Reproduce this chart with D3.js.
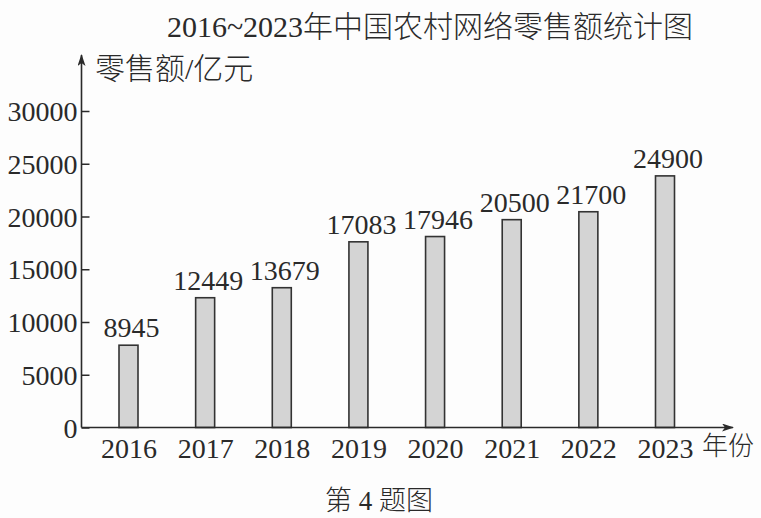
<!DOCTYPE html>
<html>
<head>
<meta charset="utf-8">
<script src="https://cdn.jsdelivr.net/npm/d3@7"></script>
<style>
  body { margin: 0; background: #fdfdfd; }
  text { font-family: "Liberation Serif", "Noto Sans CJK SC", serif; fill: #2a2a2a; }
  .cjk { font-weight: 300; }
</style>
</head>
<body>
<svg id="chart" width="761" height="518"></svg>
<script>
// DATA
var years = ["2016","2017","2018","2019","2020","2021","2022","2023"];
var value_labels = [8945, 12449, 13679, 17083, 17946, 20500, 21700, 24900];
// bar heights as they are drawn in the printed figure (not quite to scale with the labels)
var bar_heights = [7800, 12300, 13250, 17600, 18100, 19700, 20450, 23850];
var y_ticks = [0, 5000, 10000, 15000, 20000, 25000, 30000];

var title_text = "2016~2023年中国农村网络零售额统计图";
var y_title = "零售额/亿元";
var x_title = "年份";
var caption = "第 4 题图";

// RENDERING
var svg = d3.select("#chart");
var ink = "#2a2a2a";

var origin = {x: 81.5, y: 427.5};

var x = d3.scalePoint().domain(years).range([128.5, 665]);
var y = d3.scaleLinear().domain([0, 30000]).range([origin.y, 111]);
var bar_w = 19;

svg.append("defs").append("marker")
  .attr("id","arrow")
  .attr("viewBox","0 0 12 8")
  .attr("refX",11).attr("refY",4)
  .attr("markerWidth",12).attr("markerHeight",8)
  .attr("markerUnits","userSpaceOnUse")
  .attr("orient","auto")
  .append("path")
    .attr("d","M0,0 L12,4 L0,8 L3,4 Z")
    .attr("fill",ink);

// title
svg.append("text")
  .attr("class","cjk")
  .attr("x", 430).attr("y", 37)
  .attr("text-anchor","middle")
  .style("font-size","30px")
  .text(title_text);

// bars
svg.selectAll(".bar")
  .data(years)
  .enter().append("rect")
    .attr("class","bar")
    .attr("x", function(d){ return x(d) - bar_w/2; })
    .attr("y", function(d,i){ return y(bar_heights[i]); })
    .attr("width", bar_w)
    .attr("height", function(d,i){ return y(0) - y(bar_heights[i]); })
    .attr("fill","#d4d4d4")
    .attr("stroke","#333")
    .attr("stroke-width",1.6);

// value labels
svg.selectAll(".val")
  .data(years)
  .enter().append("text")
    .attr("class","val")
    .attr("x", function(d){ return x(d) + 3; })
    .attr("y", function(d,i){ return y(bar_heights[i]) - 8; })
    .attr("text-anchor","middle")
    .style("font-size","28px")
    .text(function(d,i){ return value_labels[i]; });

// y axis
var y_axis = d3.axisRight(y).tickValues(y_ticks).tickSize(8).tickFormat("");
var gy = svg.append("g")
  .attr("transform","translate(" + origin.x + ",0)")
  .call(y_axis);
gy.select(".domain").remove();
gy.selectAll(".tick line").attr("stroke",ink).attr("stroke-width",1.5);

svg.selectAll(".ylab")
  .data(y_ticks)
  .enter().append("text")
    .attr("class","ylab")
    .attr("x", origin.x - 4)
    .attr("y", function(d){ return y(d) + 10; })
    .attr("text-anchor","end")
    .style("font-size","28px")
    .text(function(d){ return d; });

svg.append("line")
  .attr("x1", origin.x).attr("y1", origin.y)
  .attr("x2", origin.x).attr("y2", 55)
  .attr("stroke", ink).attr("stroke-width",1.6)
  .attr("marker-end","url(#arrow)");

svg.append("text")
  .attr("class","cjk")
  .attr("x", 95).attr("y", 79)
  .style("font-size","30px")
  .text(y_title);

// x axis
svg.append("line")
  .attr("x1", origin.x).attr("y1", origin.y)
  .attr("x2", 733).attr("y2", origin.y)
  .attr("stroke", ink).attr("stroke-width",1.6)
  .attr("marker-end","url(#arrow)");

var x_axis = d3.axisBottom(x).tickSize(0).tickPadding(0);
var gx = svg.append("g")
  .attr("transform","translate(0," + origin.y + ")")
  .call(x_axis);
gx.select(".domain").remove();
gx.selectAll(".tick text")
  .attr("y", 30)
  .attr("dy", null)
  .attr("fill", ink)
  .style("font-family",'"Liberation Serif", serif')
  .style("font-size","28px");

svg.append("text")
  .attr("class","cjk")
  .attr("x", 702).attr("y", 455)
  .style("font-size","26px")
  .text(x_title);

// caption
svg.append("text")
  .attr("class","cjk")
  .attr("x", 325).attr("y", 510)
  .style("font-size","27px")
  .text(caption);
</script>
</body>
</html>
